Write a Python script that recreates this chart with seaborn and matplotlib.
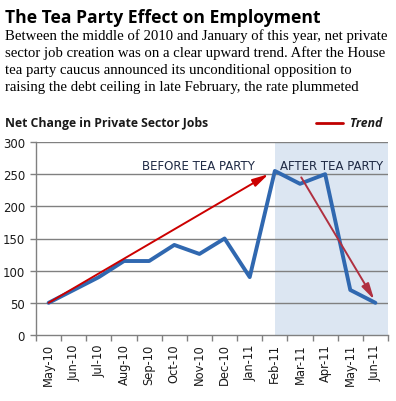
import matplotlib
matplotlib.use("Agg")
import matplotlib.pyplot as plt
import seaborn as sns
import numpy as np
import pandas as pd

months = ["May-10", "Jun-10", "Jul-10", "Aug-10", "Sep-10", "Oct-10", "Nov-10",
          "Dec-10", "Jan-11", "Feb-11", "Mar-11", "Apr-11", "May-11", "Jun-11"]
jobs = [50, 70, 90, 115, 115, 140, 126, 150, 90, 255, 235, 250, 70, 50]
yticks = [0, 50, 100, 150, 200, 250, 300]

# trend arrows: (x start, y start, x end, y end) in category index / jobs units
trend_before = [0, 50, 8.75, 250]
trend_after = [10.05, 245, 12.95, 55]
after_start = 9

sns.set_theme(style="white")
plt.rcParams['font.family'] = ['DejaVu Sans']

fig = plt.figure(figsize=(3.96, 4.02), dpi=100)
ax = fig.add_axes([36/396, 1-336/402, 352/396, 193/402])

df = pd.DataFrame({"idx": np.arange(len(months)), "jobs": jobs})
ax.axvspan(after_start, len(months) - 0.5, color="#dce6f2", zorder=0, lw=0)
for v in yticks[1:]:
    ax.axhline(v, color="#808080", lw=1.0, zorder=1)
sns.lineplot(data=df, x="idx", y="jobs", ax=ax, color="#3068b0", lw=2.8, zorder=3)

ax.annotate("", xy=(trend_before[2], trend_before[3]), xytext=(trend_before[0], trend_before[1]),
            arrowprops=dict(arrowstyle="-|>,head_length=0.8,head_width=0.2", color="#cc0000", lw=1.4,
                            shrinkA=0, shrinkB=0), zorder=4)
ax.annotate("", xy=(trend_after[2], trend_after[3]), xytext=(trend_after[0], trend_after[1]),
            arrowprops=dict(arrowstyle="-|>,head_length=0.8,head_width=0.2", color="#b03040", lw=1.4,
                            shrinkA=0, shrinkB=0), zorder=4)

ax.set_xlim(-0.5, len(months) - 0.5)
ax.set_ylim(0, 300)
ax.set_yticks(yticks)
ax.set_yticklabels([str(v) for v in yticks], fontsize=8.5, color="#1a1a1a")
ax.set_xticks(np.arange(len(months)))
ax.set_xticklabels(months, rotation=90, fontsize=8.3, color="#1a1a1a")
ax.set_xticks(np.arange(len(months) + 1) - 0.5, minor=True)
ax.tick_params(axis="x", which="major", length=0, pad=6)
ax.tick_params(axis="x", which="minor", length=4, color="#808080", width=1, direction="out", bottom=True)
ax.tick_params(axis="y", length=4, color="#808080", width=1, direction="out", left=True, pad=4)
ax.set_xlabel("")
ax.set_ylabel("")
for s in ["top", "right"]:
    ax.spines[s].set_visible(False)
for s in ["left", "bottom"]:
    ax.spines[s].set_color("#808080")
    ax.spines[s].set_linewidth(1)

ax.text(0.3, 0.88, "BEFORE TEA PARTY", transform=ax.transAxes, fontsize=8.5, color="#1f2a44",
        ha="left", va="center")
ax.text(0.693, 0.88, "AFTER TEA PARTY", transform=ax.transAxes, fontsize=8.5, color="#1f2a44",
        ha="left", va="center")

fig.text(5/396, 1-18/402, "The Tea Party Effect on Employment", fontsize=12.6, fontweight="bold",
         family=["Open Sans", "DejaVu Sans"], ha="left", va="center", color="black")
sub = ("Between the middle of 2010 and January of this year, net private\n"
       "sector job creation was on a clear upward trend. After the House\n"
       "tea party caucus announced its unconditional opposition to\n"
       "raising the debt ceiling in late February, the rate plummeted")
fig.text(5/396, 1-29/402, sub, fontsize=10.6, family=["Liberation Serif"], ha="left", va="top",
         color="black", linespacing=1.36)
fig.text(5/396, 1-124/402, "Net Change in Private Sector Jobs", fontsize=8.8, fontweight="bold",
         family=["Open Sans", "DejaVu Sans"], ha="left", va="center", color="#1a1a1a")
fig.lines.append(plt.Line2D([316/396, 343/396], [1-124/402, 1-124/402], transform=fig.transFigure,
                            color="#c00000", lw=2))
fig.text(350/396, 1-124/402, "Trend", fontsize=8.8, fontweight="bold", style="italic",
         family=["Open Sans", "DejaVu Sans"], ha="left", va="center", color="#1a1a1a")

fig.savefig("out.png", dpi=100)
